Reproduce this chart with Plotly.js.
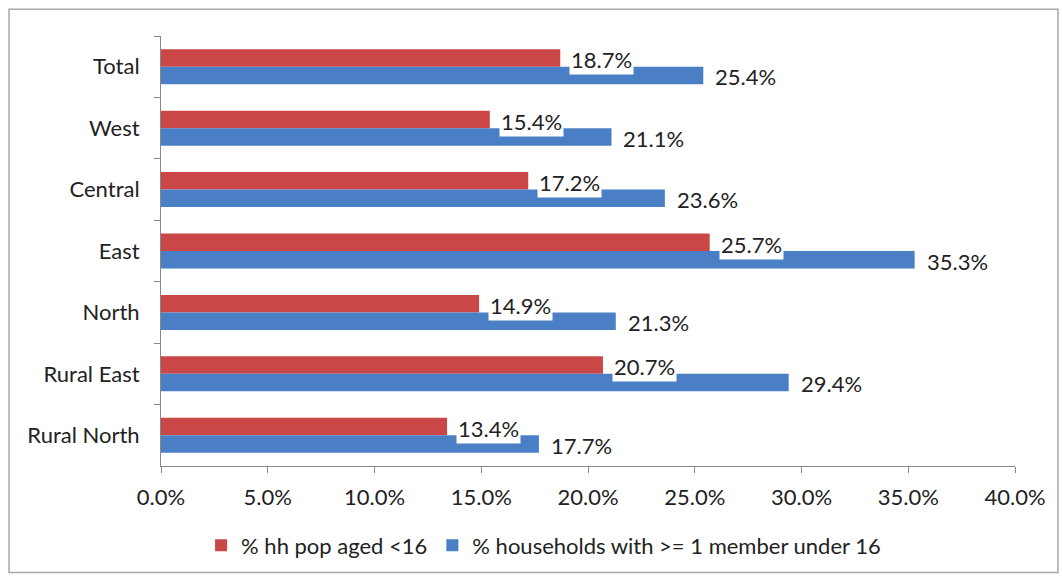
<!DOCTYPE html>
<html>
<head>
<meta charset="utf-8">
<script src="https://cdn.plot.ly/plotly-3.0.1.min.js"></script>
<style>html,body{margin:0;padding:0;background:#fff;}#chart{width:1062px;height:578px;}</style>
</head>
<body>
<div id="chart"></div>
<script>
const categories = ["Total", "West", "Central", "East", "North", "Rural East", "Rural North"];
const hhPopUnder16 = [18.7, 15.4, 17.2, 25.7, 14.9, 20.7, 13.4];
const householdsWithChild = [25.4, 21.1, 23.6, 35.3, 21.3, 29.4, 17.7];
const seriesNames = ["% hh pop aged <16", "% households with >= 1 member under 16"];
const xTickVals = [0, 5, 10, 15, 20, 25, 30, 35, 40];
const xTickText = ["0.0%", "5.0%", "10.0%", "15.0%", "20.0%", "25.0%", "30.0%", "35.0%", "40.0%"];

const FONT = "Lato, 'Open Sans', sans-serif";
const RED = "#CB4646";
const BLUE = "#4A7FC6";

const traces = [
  {type: "bar", orientation: "h", name: seriesNames[0], y: categories, x: hhPopUnder16,
   marker: {color: RED, line: {width: 0}}, hoverinfo: "skip"},
  {type: "bar", orientation: "h", name: seriesNames[1], y: categories, x: householdsWithChild,
   marker: {color: BLUE, line: {width: 0}}, hoverinfo: "skip"}
];

const annotations = [];
categories.forEach((c, i) => {
  annotations.push({x: hhPopUnder16[i], y: c, xref: "x", yref: "y", text: hhPopUnder16[i].toFixed(1) + "%",
    showarrow: false, xanchor: "left", yanchor: "middle", xshift: 9, yshift: 7,
    bgcolor: "#ffffff", borderpad: 1, font: {family: FONT, size: 22, color: "#222"}});
  annotations.push({x: householdsWithChild[i], y: c, xref: "x", yref: "y", text: householdsWithChild[i].toFixed(1) + "%",
    showarrow: false, xanchor: "left", yanchor: "middle", xshift: 10, yshift: -10,
    bgcolor: "rgba(255,255,255,0)", borderpad: 1, font: {family: FONT, size: 22, color: "#222"}});
});

const layout = {
  width: 1062, height: 578,
  margin: {l: 161, r: 47, t: 36, b: 110},
  paper_bgcolor: "#ffffff", plot_bgcolor: "#ffffff",
  barmode: "group", bargap: 0.43, bargroupgap: 0,
  font: {family: FONT, size: 22, color: "#222"},
  showlegend: true,
  legend: {orientation: "h", x: 0.448, xanchor: "center", y: -0.185, yanchor: "middle",
    font: {family: FONT, size: 22, color: "#222"}, itemwidth: 30, traceorder: "normal",
    entrywidth: 0},
  xaxis: {range: [0, 40], tickvals: xTickVals, ticktext: xTickText, showgrid: false, zeroline: false,
    showline: true, linecolor: "#888", linewidth: 1, ticks: "outside", ticklen: 6, tickcolor: "#888",
    ticklabelstandoff: 6,
    tickfont: {family: FONT, size: 22, color: "#222"}, fixedrange: true},
  yaxis: {autorange: "reversed", showgrid: false, zeroline: false, showline: true, linecolor: "#888", linewidth: 1,
    ticks: "outside", ticklen: 6, tickcolor: "#888", tickson: "boundaries", ticklabelstandoff: 16,
    tickfont: {family: FONT, size: 22, color: "#222"}, fixedrange: true},
  annotations: annotations,
  shapes: [{type: "rect", xref: "paper", yref: "paper",
    x0: (9 - 161) / 854, x1: (1058 - 161) / 854, y0: (468 - 575) / 432, y1: (468 - 9) / 432,
    line: {color: "#A8A8A8", width: 1.5}, fillcolor: "rgba(0,0,0,0)"}]
};

Plotly.newPlot("chart", traces, layout, {displayModeBar: false, staticPlot: true});
</script>
</body>
</html>
